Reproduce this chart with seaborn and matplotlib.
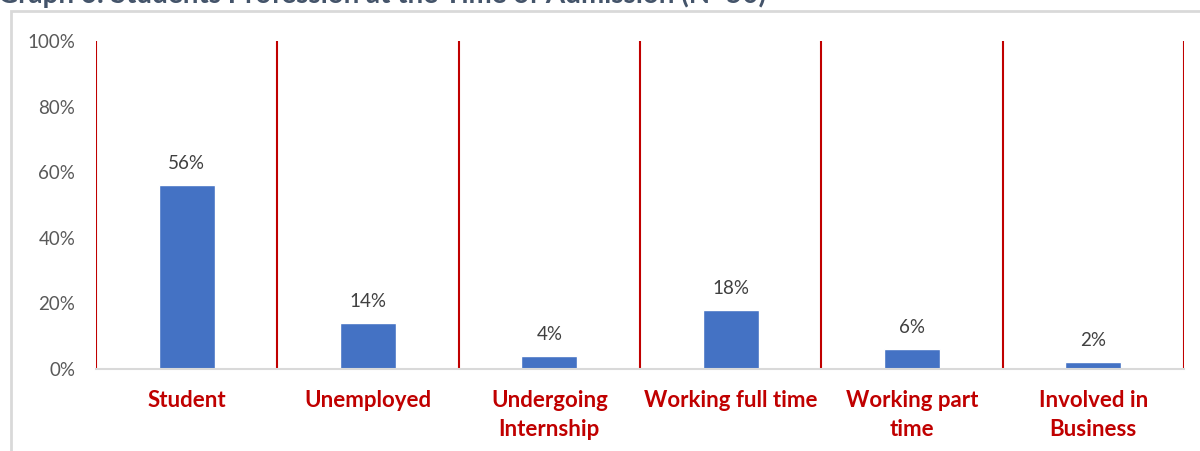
import matplotlib
matplotlib.use("Agg")
import matplotlib.pyplot as plt
import seaborn as sns
import pandas as pd
from matplotlib.patches import Rectangle

categories = ["Student", "Unemployed", "Undergoing\nInternship", "Working full time",
              "Working part\ntime", "Involved in\nBusiness"]
shares = [56, 14, 4, 18, 6, 2]
y_ticks = [0, 20, 40, 60, 80, 100]
y_tick_labels = ["0%", "20%", "40%", "60%", "80%", "100%"]
title = "Graph 6: Students Profession at the Time of Admission (N=50)"

sns.set_theme(style="white")
plt.rcParams["font.family"] = ["Lato", "DejaVu Sans"]

df = pd.DataFrame({"category": categories, "share": shares})

fig = plt.figure(figsize=(12, 4.51), dpi=100)
ax = fig.add_axes([0.08, 0.1818, 0.9067, 0.7273])

sns.barplot(data=df, x="category", y="share", color="#4472C4", width=0.31,
            saturation=1, ax=ax)

ax.set_xlim(-0.5, len(categories) - 0.5)
ax.set_ylim(0, 100)
ax.set_yticks(y_ticks)
ax.set_yticklabels(y_tick_labels, color="#595959", fontsize=13.5)
ax.tick_params(axis="y", length=0, pad=15)
ax.tick_params(axis="x", length=0, pad=15)
for lbl in ax.get_xticklabels():
    lbl.set_color("#C00000")
    lbl.set_fontweight("bold")
    lbl.set_fontsize(16)
    lbl.set_linespacing(1.5)
ax.set_xlabel("")
ax.set_ylabel("")

for side in ["top", "right", "left"]:
    ax.spines[side].set_visible(False)
ax.spines["bottom"].set_color("#D9D9D9")
ax.spines["bottom"].set_linewidth(1.5)

# category separators
for x in range(len(categories) + 1):
    ax.axvline(x - 0.5, ymin=0, ymax=1, color="#C00000", linewidth=1.5, zorder=1)

for i, v in enumerate(shares):
    ax.text(i, v + 4, f"{v}%", ha="center", va="bottom", color="#404040", fontsize=13.5)

# chart frame
fig.patches.append(Rectangle((11 / 1200, -0.05), 1.1, 1 - 11 / 451 + 0.05,
                             transform=fig.transFigure, fill=False,
                             edgecolor="#D9D9D9", linewidth=2, zorder=0))

fig.text(-0.002, 1 - 3 / 451, title, ha="left", va="baseline", color="#44546A",
         fontsize=20, fontweight="bold")

fig.savefig("out.png", dpi=100)
